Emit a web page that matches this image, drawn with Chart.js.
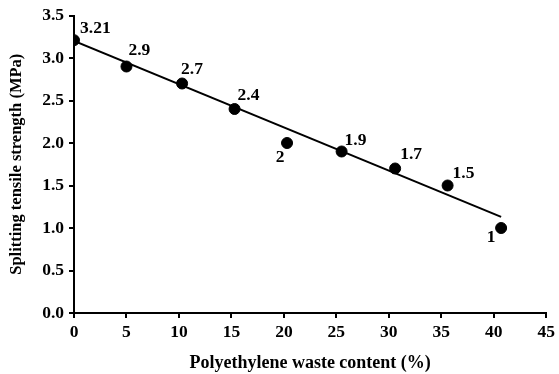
<!DOCTYPE html>
<html>
<head>
<meta charset="utf-8">
<title>Splitting tensile strength</title>
<script src="https://cdn.jsdelivr.net/npm/chart.js@4/dist/chart.umd.min.js"></script>
<style>
  html, body { margin: 0; padding: 0; background: #fff; }
  #wrap { width: 559px; height: 374px; }
</style>
</head>
<body>
<div id="wrap"><canvas id="myChart" width="559" height="374"></canvas></div>
<script>
// polyethylene waste content (%) and measured strength (MPa)
var wasteContent = [0, 5, 10.3, 15.3, 20.3, 25.5, 30.6, 35.6, 40.7];
var strength = [3.21, 2.9, 2.7, 2.4, 2, 1.9, 1.7, 1.5, 1];
var pointLabels = ["3.21", "2.9", "2.7", "2.4", "2", "1.9", "1.7", "1.5", "1"];

// fitted trend line end points
var trendX = [0, 40.7];
var trendY = [3.2, 1.13];

var xTicks = [0, 5, 10, 15, 20, 25, 30, 35, 40, 45];
var yTicks = [0, 0.5, 1, 1.5, 2, 2.5, 3, 3.5];

// where each value label sits relative to its point [dx, dy, align]
var labelPos = [
    [6, -12, "left"], [2, -16, "left"], [-1, -14, "left"], [3, -14, "left"],
    [-7, 14, "center"], [3, -11, "left"], [5, -14, "left"], [5, -12, "left"],
    [-10, 9, "center"]
];

var fontFamily = "'Liberation Serif', 'Times New Roman', serif";

var points = wasteContent.map(function(x, i) {
    return {x: x, y: strength[i]};
});
var trend = trendX.map(function(x, i) {
    return {x: x, y: trendY[i]};
});

// writes the value next to each point
var valueLabels = {
    id: "valueLabels",
    afterDatasetsDraw: function(chart) {
        var ctx = chart.ctx;
        var meta = chart.getDatasetMeta(1);
        ctx.save();
        ctx.fillStyle = "#000";
        ctx.font = "bold 17.5px " + fontFamily;
        ctx.textBaseline = "middle";
        meta.data.forEach(function(pt, i) {
            var p = labelPos[i];
            ctx.textAlign = p[2];
            ctx.fillText(pointLabels[i], pt.x + p[0], pt.y + p[1]);
        });
        ctx.restore();
    }
};

new Chart("myChart", {
    type: "scatter",
    data: {
        datasets: [{
            label: "trend",
            data: trend,
            showLine: true,
            borderColor: "#000",
            borderWidth: 2,
            pointRadius: 0
        }, {
            label: "strength",
            data: points,
            showLine: false,
            backgroundColor: "#000",
            borderColor: "#000",
            pointRadius: 5.5
        }]
    },
    options: {
        responsive: false,
        animation: false,
        layout: {padding: {top: 13, right: 12, left: 0, bottom: 0}},
        plugins: {
            legend: {display: false},
            tooltip: {enabled: false}
        },
        scales: {
            x: {
                type: "linear",
                min: 0,
                max: 45,
                afterBuildTicks: function(axis) {
                    axis.ticks = xTicks.map(function(v) { return {value: v}; });
                },
                afterFit: function(axis) {
                    axis.height = 61;
                },
                grid: {drawOnChartArea: false, tickLength: 5, color: "#000", lineWidth: 2},
                border: {color: "#000", width: 2},
                ticks: {
                    color: "#000",
                    padding: 4,
                    maxRotation: 0,
                    font: {family: fontFamily, size: 17.5, weight: "bold"}
                },
                title: {
                    display: true,
                    text: "Polyethylene waste content (%)",
                    color: "#000",
                    padding: {top: 0, bottom: 2},
                    font: {family: fontFamily, size: 18, weight: "bold", lineHeight: 1}
                }
            },
            y: {
                min: 0,
                max: 3.5,
                afterBuildTicks: function(axis) {
                    axis.ticks = yTicks.map(function(v) { return {value: v}; });
                },
                afterFit: function(axis) {
                    axis.width = 74;
                },
                grid: {drawOnChartArea: false, tickLength: 5, color: "#000", lineWidth: 2},
                border: {color: "#000", width: 2},
                ticks: {
                    color: "#000",
                    padding: 5,
                    font: {family: fontFamily, size: 17.5, weight: "bold"},
                    callback: function(v) { return v.toFixed(1); }
                },
                title: {
                    display: true,
                    text: "Splitting tensile strength (MPa)",
                    color: "#000",
                    padding: {top: 8, bottom: 0},
                    font: {family: fontFamily, size: 16.5, weight: "bold", lineHeight: 1}
                }
            }
        }
    },
    plugins: [valueLabels]
});
</script>
</body>
</html>
